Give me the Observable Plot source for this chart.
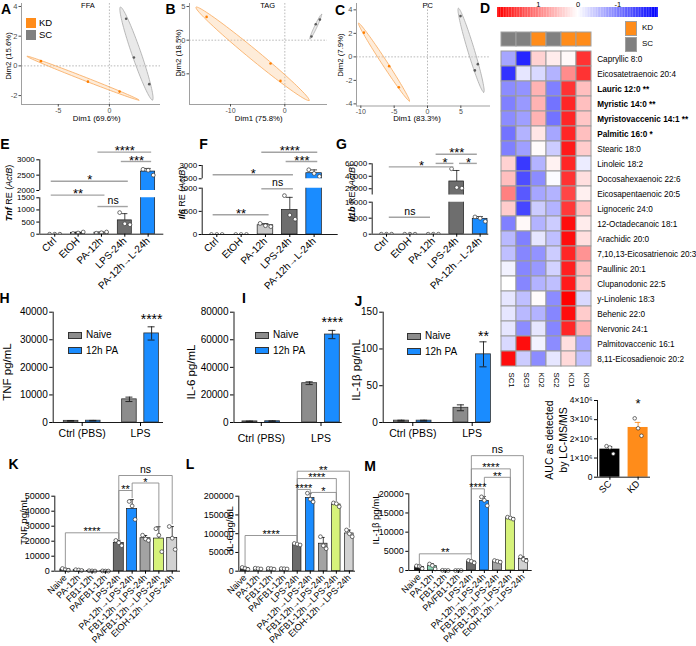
<!DOCTYPE html>
<html><head><meta charset="utf-8">
<script src="https://cdn.jsdelivr.net/npm/d3@7"></script>
<script src="https://cdn.jsdelivr.net/npm/@observablehq/plot@0.6"></script>
<style>
html, body { margin: 0; padding: 0; background: #fff; }
#fig { position: relative; width: 696px; height: 646px; overflow: hidden; background: #fff; font-family: Arial, "Liberation Sans", Helvetica, sans-serif; }
#fig svg { position: absolute !important; left: 0; top: 0; background: transparent !important; overflow: visible; max-width: none !important; }
.t { position: absolute; white-space: nowrap; line-height: 1; color: #000; }
.box { position: absolute; box-sizing: border-box; }
</style>
</head><body><div id="fig"></div>
<script>
// ================= DATA =================
// A–C: PCA individual scores (first three KD, last three SC)
const pcaGroup = ["KD", "KD", "KD", "SC", "SC", "SC"];
const ffaDim1 = [-6.7, -2.1, 1.0, 1.64, 2.4, 3.9];
const ffaDim2 = [0.32, -1.06, -1.73, 3.17, 0.56, -1.23];
const tagDim1 = [-14.4, -2.63, -0.8, 6.45, 5.7, 4.9];
const tagDim2 = [3.46, -3.47, -6.05, 3.06, 2.37, 0.54];
const pcDim1 = [-9.55, -5.75, -4.3, 4.95, 7.55, 7.1];
const pcDim2 = [2.06, -0.79, -2.59, 3.47, -0.62, -1.15];

// D: heatmap (row z-scores)
const hmSamples = ["SC1", "SC3", "KD2", "SC2", "KD1", "KD3"];
const hmGroups = ["SC", "SC", "KD", "SC", "KD", "KD"];
const hmLipids = ["Capryllic 8:0", "Eicosatetraenoic 20:4", "Lauric 12:0 **", "Myristic 14:0 **", "Myristovaccenic 14:1 **",
  "Palmitic 16:0 *", "Stearic 18:0", "Linoleic 18:2", "Docosahexaenoic 22:6", "Eicosapentaenoic 20:5", "Lignoceric 24:0",
  "12-Octadecanoic 18:1", "Arachidic 20:0", "7,10,13-Eicosatrienoic 20:3", "Paullinic 20:1", "Clupanodonic 22:5",
  "y-Linolenic 18:3", "Behenic 22:0", "Nervonic 24:1", "Palmitovaccenic 16:1", "8,11-Eicosadienoic 20:2"];
const hmBold = [false, false, true, true, true, true, false, false, false, false, false, false, false, false, false, false, false, false, false, false, false];
const hmZ = [
  [-0.7, -1.7, 0.35, 0.15, 0.05, 1.6],
  [-1.6, -0.2, -0.3, -0.6, 0.9, 1.6],
  [-0.9, -0.85, 0.6, -1.0, 1.6, 0.5],
  [-1.0, -0.8, 0.6, -1.1, 1.7, 0.5],
  [-0.9, -0.75, 0.6, -1.1, 1.7, 0.45],
  [-1.1, -0.6, 0.2, -0.7, 1.7, 0.5],
  [-1.0, -0.75, 0.03, -0.4, 1.8, 0.4],
  [0.35, -1.55, -0.6, 0.1, 1.7, -0.15],
  [0.5, -1.4, -0.9, -0.03, 1.6, 0.25],
  [1.0, -1.3, -0.7, -0.6, 1.45, 0.12],
  [0.4, -1.45, -0.4, -0.6, 1.55, 0.45],
  [-1.0, 0.05, -0.6, -0.4, 1.9, 0.15],
  [-0.55, -1.0, -0.2, -0.5, 1.9, 0.25],
  [-0.5, -0.95, -0.85, -0.4, 1.7, 0.85],
  [-0.1, -0.95, -0.8, -0.35, 1.75, 0.5],
  [0.0, -0.95, -0.6, -0.5, 1.8, 0.4],
  [-0.2, -0.5, 0.02, -0.9, 2.0, -0.3],
  [-0.2, -0.55, -0.6, -0.95, 1.9, 0.4],
  [-0.2, -0.9, -0.2, -0.95, 1.7, 0.6],
  [-0.3, 1.9, -0.1, -0.9, 0.25, -0.7],
  [1.9, -0.4, -0.9, -0.2, 0.3, -0.5]
];
const cbTicks = [1, 0, -1];

// AUC (LC-MS/MS)
const aucGroups = ["SC", "KD"];
const aucValues = [[1.62e6, 1.55e6, 1.22e6], [3.07e6, 2.55e6, 2.16e6]];
const aucTicks = [0, 1e6, 2e6, 3e6, 4e6];

// E–G: qPCR relative expression (replicates)
const qpcrCats = ["Ctrl", "EtOH", "PA-12h", "LPS-24h", "PA-12h→L-24h"];
const tnfRE = [[0, 0, 0], [30, 50, 90], [40, 60, 90], [890, 430, 390], [2690, 2660, 2500]];
const il6RE = [[0, 0, 0], [0, 0, 0], [240, 190, 170], [840, 420, 330], [2840, 2700, 2590]];
const il1bRE = [[0, 0, 0], [0, 0, 0], [0, 0, 0], [52000, 22000, 21000], [5400, 5000, 4000]];
const tnfLowTicks = [0, 500, 1000, 1500], tnfHighTicks = [2000, 2500, 3000];
const il6LowTicks = [0, 500, 1000], il6HighTicks = [2500, 3000];
const il1bLowTicks = [0, 5000, 10000], il1bHighTicks = [20000, 40000, 60000];
// [from, to, y, label]
const tnfSig = [[2, 4, 3250, "****"], [3, 4, 2945, "***"], [0, 3, 2300, "*"], [0, 2, 1610, "**"], [2, 3, 1140, "ns"]];
const il6Sig = [[2, 4, 3500, "****"], [3, 4, 3150, "***"], [0, 3, 2650, "*"], [0, 2, 425, "**"], [2, 3, 987, "ns"]];
const il1bSig = [[2, 4, 75300, "***"], [2, 3, 60650, "*"], [3, 4, 60650, "*"], [0, 3, 55100, "*"], [0, 2, 5310, "ns"]];

// H–J: cytokines (mean, error)
const cytoGroups = ["Ctrl (PBS)", "LPS"];
const cytoSeries = ["Naive", "12h PA"];
const tnfNaive = [600, 8400], tnfNaiveErr = [100, 800];
const tnfPA = [650, 32300], tnfPAErr = [100, 2400];
const il6Naive = [800, 28500], il6NaiveErr = [200, 1000];
const il6PA = [900, 63800], il6PAErr = [300, 3000];
const il1bNaive = [2.5, 20], il1bNaiveErr = [0.6, 4];
const il1bPA = [2.5, 92.7], il1bPAErr = [0.6, 17];

// K–M: pretreatment cytokines (replicates)
const preCats = ["Naive", "PA-12h", "FB1-12h", "PA/FB1-12h", "LPS-24h", "PA-12h→LPS-24h", "FB1-12h→LPS-24h", "PA/FB1-12h→LPS-24h", "EtOH-12h→LPS-24h"];
const tnfPg = [[1800, 1200, 600], [1000, 800, 500], [300, 200, 100], [200, 100, 100], [20500, 19000, 17000], [46500, 43500, 34500], [24000, 21500, 20500], [28300, 24000, 13000], [29800, 22000, 14500]];
const il6Pg = [[10000, 8000, 5000], [8000, 7000, 6000], [7500, 7000, 5500], [7000, 6500, 6000], [74000, 72000, 70000], [208000, 192000, 185000], [92000, 68000, 60000], [182000, 180000, 172000], [110000, 100000, 92000]];
const il1bPg = [[1200, 1100, 500], [1700, 1300, 400], [50, 0, 0], [0, 0, 0], [2600, 2400, 2000], [19200, 18300, 16900], [2600, 2400, 2200], [13900, 13700, 13400], [3600, 2900, 2500]];
// [from, to, y, leftDrop, rightDrop, label]
const tnfPgBr = [[0, 4, 25600, 1600, 21600, "****"], [4, 5, 53800, 21600, 49000, "**"], [5, 7, 58800, 53800, 30000, "*"], [4, 8, 63800, 21600, 31600, "ns"]];
const il6PgBr = [[0, 4, 95200, 10000, 76500, "****"], [4, 5, 218000, 76500, 210000, "****"], [5, 7, 210000, 200000, 188500, "*"], [4, 7, 247000, 76500, 188500, "****"], [4, 8, 266700, 76500, 117000, "**"]];
const il1bPgBr = [[0, 4, 4350, 800, 3000, "**"], [4, 5, 21300, 4350, 19200, "****"], [5, 7, 24300, 22100, 14300, "**"], [4, 7, 26500, 4350, 14300, "****"], [4, 8, 29950, 4350, 3900, "ns"]];

// ================= STYLE / HELPERS =================
const FONT = 'Arial, "Liberation Sans", Helvetica, sans-serif';
const W = 696, H = 646;
const KD_ORANGE = "#ff8c1a", SC_GRAY = "#808080", PA_BLUE = "#1a8cff", NAIVE_GRAY = "#8c8c8c";
const qpcrFills = ["#ffffff", "#000000", "#c9c9c9", "#6e6e6e", PA_BLUE];
const preFills = ["#111111", "#8fd8b8", "#a9d9df", "#b4c9e6", "#6b6b6b", PA_BLUE, "#a3a3a3", "#d6f27a", "#d2d2d2"];
const HM_COLOR = {type: "linear", domain: [-2, 0, 2], range: ["#0000ff", "#ffffff", "#ff0000"], interpolate: "rgb", clamp: true};
const fig = document.getElementById("fig");

function mk(frame, opts) {
  const [x0, y0, x1, y1] = frame;
  if (opts.x && !("axis" in opts.x)) opts.x = {...opts.x, axis: null};
  if (opts.y && !("axis" in opts.y)) opts.y = {...opts.y, axis: null};
  const svg = Plot.plot(Object.assign({
    width: W, height: H,
    marginLeft: x0, marginTop: y0, marginRight: W - x1, marginBottom: H - y1,
    style: {background: "transparent", fontFamily: FONT, overflow: "visible", color: "#000"}
  }, opts));
  fig.appendChild(svg);
}
function txt(html, x, y, o = {}) {
  const d = document.createElement("div");
  d.className = "t";
  d.innerHTML = html;
  d.style.left = x + "px"; d.style.top = y + "px";
  d.style.fontSize = (o.size || 9) + "px";
  d.style.fontWeight = o.bold ? "bold" : "normal";
  const ax = o.anchor === "start" ? "0%" : o.anchor === "end" ? "-100%" : "-50%";
  d.style.transform = `translate(${ax}, -50%)` + (o.rot ? ` rotate(${o.rot}deg)` : "");
  fig.appendChild(d);
}
function box(x, y, w, h, color, border) {
  const d = document.createElement("div");
  d.className = "box";
  Object.assign(d.style, {left: x + "px", top: y + "px", width: w + "px", height: h + "px", background: color, border: border || "none"});
  fig.appendChild(d);
}

// ---------- A–C: PCA ----------
function confEllipse(pts, n = 96) {
  const m = pts.length, mx = d3.mean(pts, p => p.x), my = d3.mean(pts, p => p.y);
  let sxx = 0, syy = 0, sxy = 0;
  for (const p of pts) { sxx += (p.x - mx) ** 2; syy += (p.y - my) ** 2; sxy += (p.x - mx) * (p.y - my); }
  const k = (m - 1) * m; sxx /= k; syy /= k; sxy /= k;
  const tr = sxx + syy, det = sxx * syy - sxy * sxy, disc = Math.sqrt(Math.max(0, tr * tr / 4 - det));
  const l1 = tr / 2 + disc, l2 = Math.max(0, tr / 2 - disc);
  const th = 0.5 * Math.atan2(2 * sxy, sxx - syy);
  const r = Math.sqrt(-2 * Math.log(0.05));
  const a = r * Math.sqrt(l1), b = r * Math.sqrt(l2);
  return d3.range(n).map(i => {
    const t = 2 * Math.PI * i / n, u = a * Math.cos(t), v = b * Math.sin(t);
    return {x: mx + u * Math.cos(th) - v * Math.sin(th), y: my + u * Math.sin(th) + v * Math.cos(th)};
  });
}
function pcaPanel(xs, ys, frame, xdom, ydom, xticks, yticks) {
  const pts = xs.map((x, i) => ({x, y: ys[i], g: pcaGroup[i]}));
  const kd = pts.filter(p => p.g === "KD"), sc = pts.filter(p => p.g === "SC");
  const ref = {stroke: "#8c8c8c", strokeWidth: 0.6, strokeDasharray: "1.6,1.6"};
  mk(frame, {
    x: {domain: xdom}, y: {domain: ydom},
    marks: [
      Plot.ruleX([0], ref), Plot.ruleY([0], ref),
      Plot.line(confEllipse(sc), {x: "x", y: "y", curve: "linear-closed", stroke: "#a8a8a8", strokeWidth: 0.8, fill: "#cfcfcf", fillOpacity: 0.45}),
      Plot.line(confEllipse(kd), {x: "x", y: "y", curve: "linear-closed", stroke: "#f9a85a", strokeWidth: 0.8, fill: "#fcc893", fillOpacity: 0.35}),
      Plot.dot(sc, {x: "x", y: "y", r: 1.3, fill: "#5a5a5a"}),
      Plot.dot(kd, {x: "x", y: "y", r: 1.3, fill: "#ff7f00"}),
      Plot.ruleX([xdom[0]], {stroke: "#777", strokeWidth: 0.7}),
      Plot.ruleY([ydom[0]], {stroke: "#777", strokeWidth: 0.7}),
      Plot.axisX({ticks: xticks, tickFormat: d => String(d), tickSize: 2.5, tickPadding: 1, fontSize: 7, label: null, color: "#4d4d4d"}),
      Plot.axisY({ticks: yticks, tickFormat: d => String(d), tickSize: 2.5, tickPadding: 1.5, fontSize: 7.5, label: null, color: "#4d4d4d"})
    ]
  });
}
pcaPanel(ffaDim1, ffaDim2, [21, 3, 160, 104], [-8.6, 5.0], [-2.6, 4.2], [-5, 0], [-2, 0, 2, 4]);
pcaPanel(tagDim1, tagDim2, [189, 3, 327, 104], [-17.55, 7.86], [-9.56, 5.45], [-10, 0], [-5, 0, 5]);
pcaPanel(pcDim1, pcDim2, [356, 3, 490, 105.5], [-10.65, 9.45], [-4.18, 4.54], [-10, -5, 0, 5], [-4, -2, 0, 2, 4]);

// ---------- D: heatmap ----------
const cbStops = d3.range(-2, 2.0001, 0.04);
mk([498, 7, 657, 17], {
  x: {domain: [2, -2]}, color: HM_COLOR,
  marks: [
    Plot.rect(cbStops, {x1: d => d - 0.021, x2: d => d + 0.021, fill: d => d}),
    Plot.axisX({anchor: "top", ticks: cbTicks, tickFormat: d => String(d), tickSize: 0, tickPadding: 1, fontSize: 7.5, label: null})
  ]
});
mk([500.7, 32, 591.7, 46], {
  x: {domain: hmSamples, padding: 0, axis: null}, color: {type: "identity"},
  marks: [Plot.cell(hmSamples, {x: d => d, fill: (d, i) => hmGroups[i] === "KD" ? KD_ORANGE : SC_GRAY, stroke: "#a0a0a0", strokeWidth: 1})]
});
const hmCells = hmLipids.flatMap((l, r) => hmSamples.map((s, c) => ({l, s, z: hmZ[r][c]})));
mk([500.7, 49, 591.7, 368], {
  x: {domain: hmSamples, padding: 0, axis: null}, y: {domain: hmLipids, padding: 0, axis: null}, color: HM_COLOR,
  marks: [
    Plot.cell(hmCells, {x: "s", y: "l", fill: "z", stroke: "#9c9c9c", strokeWidth: 1}),
    Plot.text(hmLipids.filter((l, i) => !hmBold[i]), {y: d => d, frameAnchor: "right", dx: 5, textAnchor: "start", fontSize: 8.2}),
    Plot.text(hmLipids.filter((l, i) => hmBold[i]), {y: d => d, frameAnchor: "right", dx: 5, textAnchor: "start", fontSize: 8.2, fontWeight: "bold"}),
    Plot.text(hmSamples, {x: d => d, frameAnchor: "bottom", rotate: 90, textAnchor: "start", dy: 4, fontSize: 7.8})
  ]
});

// ---------- AUC ----------
{
  const fills = ["#000000", KD_ORANGE];
  const rows = aucValues.map((p, i) => ({i, m: d3.mean(p), se: d3.deviation(p) / Math.sqrt(p.length)}));
  const pts = aucValues.flatMap((p, i) => p.map((v, j) => ({x: i + (j - 1) * 0.12, v})));
  mk([597, 400, 650, 476.7], {
    x: {domain: [-0.44, 1.44]}, y: {domain: [0, 4e6]}, color: {type: "identity"},
    marks: [
      Plot.ruleX(rows, {x: "i", y1: "m", y2: d => d.m + d.se, stroke: d => fills[d.i], strokeWidth: 0.9}),
      Plot.ruleY(rows, {y: d => d.m + d.se, x1: d => d.i - 0.1, x2: d => d.i + 0.1, stroke: d => fills[d.i], strokeWidth: 0.9}),
      Plot.rect(rows, {x1: d => d.i - 0.355, x2: d => d.i + 0.355, y1: 0, y2: "m", fill: d => fills[d.i]}),
      Plot.dot(pts, {x: "x", y: "v", r: 1.8, fill: "white", stroke: "#333", strokeWidth: 0.7}),
      Plot.ruleX([-0.44], {y1: 0, y2: 4e6, stroke: "#1a1a1a"}),
      Plot.ruleY([0], {stroke: "#1a1a1a"}),
      Plot.axisY({ticks: aucTicks, tickFormat: d => d ? `${d / 1e6}×10⁶` : "0", tickSize: 3, tickPadding: 2, fontSize: 8.5, label: null}),
      Plot.axisX({ticks: [0, 1], tickFormat: i => aucGroups[i], tickRotate: -45, tickSize: 3, tickPadding: 2, fontSize: 9.5, label: null}),
      Plot.text([[1, 3.85e6, "*"]], {x: d => d[0], y: d => d[1], text: d => d[2], fontSize: 13})
    ]
  });
}

// ---------- bar panels with replicates (optionally broken y axis) ----------
function barPanel(o) {
  const n = o.cats.length, hw = o.barW / 2, cap = o.barW * 0.22, ink = "#1a1a1a";
  const rows = o.points.map((p, i) => ({i, m: d3.mean(p), s: d3.deviation(p) || 0}));
  const errs = rows.filter(d => d.s > 0);
  const pts = o.points.flatMap((p, i) => p.map((v, j) => ({x: i + (j - (p.length - 1) / 2) * o.jit, v})));
  const segs = o.segs;
  const broken = segs.length > 1;
  segs.forEach((sg, si) => {
    const clip = broken;
    const marks = [
      Plot.ruleX(errs, {x: "i", y1: "m", y2: d => d.m + d.s, stroke: ink, strokeWidth: 0.8, clip}),
      Plot.ruleY(errs, {y: d => d.m + d.s, x1: d => d.i - cap, x2: d => d.i + cap, stroke: ink, strokeWidth: 0.8, clip}),
      Plot.rect(rows, {x1: d => d.i - hw, x2: d => d.i + hw, y1: 0, y2: "m", fill: d => o.fills[d.i], stroke: ink, strokeWidth: 0.7, clip}),
      Plot.dot(pts, {x: "x", y: "v", r: 1.9, fill: "white", stroke: "#333", strokeWidth: 0.7, clip}),
      Plot.ruleX([o.xdom[0]], {y1: sg.domain[0], y2: sg.domain[1], stroke: ink, strokeWidth: 1}),
      Plot.axisY({ticks: sg.ticks, tickFormat: d => String(d), tickSize: 3, tickPadding: 2, fontSize: o.yfs, label: null})
    ];
    if (si === 0) {
      marks.push(Plot.ruleY([0], {stroke: ink, strokeWidth: 1}));
      marks.push(Plot.axisX({ticks: d3.range(n), tickFormat: i => o.cats[i], tickRotate: -45, tickSize: 3, tickPadding: 2, fontSize: o.xfs, label: null}));
    }
    if (o.sig) {
      const s = o.sig
        .filter(([a, b, y]) => (broken ? (y < segs[1].domain[0] ? 0 : 1) : 0) === si)
        .map(([a, b, y, t]) => ({x1: a - o.ext, x2: b + o.ext, xm: (a + b) / 2, y, t}));
      marks.push(Plot.ruleY(s, {y: "y", x1: "x1", x2: "x2", stroke: "#a3a3a3", strokeWidth: 1.4}));
      marks.push(Plot.text(s.filter(d => d.t !== "ns"), {x: "xm", y: "y", text: "t", fontSize: 13, dy: -1}));
      marks.push(Plot.text(s.filter(d => d.t === "ns"), {x: "xm", y: "y", text: "t", fontSize: 10.5, dy: -6}));
    }
    if (o.brackets && si === 0) {
      const bp = o.brackets.flatMap(([a, b, y, l, r], k) => [{k, x: a, y: l}, {k, x: a, y}, {k, x: b, y}, {k, x: b, y: r}]);
      const lab = o.brackets.map(([a, b, y, l, r, t]) => ({x: (a + b) / 2, y, t}));
      marks.push(Plot.line(bp, {x: "x", y: "y", z: "k", stroke: "#8c8c8c", strokeWidth: 0.9}));
      marks.push(Plot.text(lab.filter(d => d.t !== "ns"), {x: "x", y: "y", text: "t", fontSize: 11, dy: -1}));
      marks.push(Plot.text(lab.filter(d => d.t === "ns"), {x: "x", y: "y", text: "t", fontSize: 10.5, dy: -6}));
    }
    mk([o.xr[0], sg.top, o.xr[1], sg.bottom], {x: {domain: o.xdom}, y: {domain: sg.domain}, color: {type: "identity"}, marks});
  });
}

barPanel({cats: qpcrCats, points: tnfRE, fills: qpcrFills, xr: [39.3, 163.3], xdom: [-0.64, 4.67], barW: 0.6, jit: 0.22,
  segs: [{top: 197.3, bottom: 233.7, domain: [0, 1500], ticks: tnfLowTicks}, {top: 159.3, bottom: 190, domain: [2000, 3000], ticks: tnfHighTicks}],
  yfs: 8, xfs: 10, sig: tnfSig, ext: 0.15});
barPanel({cats: qpcrCats, points: il6RE, fills: qpcrFills, xr: [201.7, 337.7], xdom: [-0.6, 4.99], barW: 0.64, jit: 0.22,
  segs: [{top: 187.7, bottom: 234, domain: [0, 1000], ticks: il6LowTicks}, {top: 165, bottom: 178.3, domain: [2500, 3000], ticks: il6HighTicks}],
  yfs: 8, xfs: 10, sig: il6Sig, ext: 0.15});
barPanel({cats: qpcrCats, points: il1bRE, fills: qpcrFills, xr: [371.7, 488.3], xdom: [-0.61, 4.37], barW: 0.63, jit: 0.22,
  segs: [{top: 201.7, bottom: 233.7, domain: [0, 10000], ticks: il1bLowTicks}, {top: 163.3, bottom: 194.5, domain: [10000, 60000], ticks: il1bHighTicks}],
  yfs: 8, xfs: 10, sig: il1bSig, ext: -0.12});

barPanel({cats: preCats, points: tnfPg, fills: preFills, xr: [54.3, 180], xdom: [-0.79, 8.62], barW: 0.75, jit: 0.22,
  segs: [{top: 495.7, bottom: 570.7, domain: [0, 50000], ticks: [0, 10000, 20000, 30000, 40000, 50000]}], yfs: 9, xfs: 9, brackets: tnfPgBr});
barPanel({cats: preCats, points: il6Pg, fills: preFills, xr: [238.3, 355], xdom: [-0.48, 8.47], barW: 0.65, jit: 0.22,
  segs: [{top: 495.7, bottom: 570.7, domain: [0, 200000], ticks: [0, 50000, 100000, 150000, 200000]}], yfs: 9, xfs: 9, brackets: il6PgBr});
barPanel({cats: preCats, points: il1bPg, fills: preFills, xr: [408.3, 531.7], xdom: [-0.81, 8.68], barW: 0.69, jit: 0.22,
  segs: [{top: 493.3, bottom: 570, domain: [0, 20000], ticks: [0, 5000, 10000, 15000, 20000]}], yfs: 9, xfs: 9, brackets: il1bPgBr});

// ---------- H–J grouped bars ----------
function groupedPanel(o) {
  const OFF = 0.19, hw = 0.125, cap = 0.06, ink = "#1a1a1a";
  const ymax = o.yticks[o.yticks.length - 1];
  const rows = [];
  [[o.naive, o.naiveErr, NAIVE_GRAY], [o.pa, o.paErr, PA_BLUE]].forEach(([m, e, f], si) =>
    m.forEach((v, gi) => rows.push({x: gi + (si ? OFF : -OFF), m: v, e: e[gi], fill: f})));
  mk(o.frame, {
    x: {domain: o.xdom}, y: {domain: [0, ymax]}, color: {type: "identity"},
    marks: [
      Plot.rect(rows, {x1: d => d.x - hw, x2: d => d.x + hw, y1: 0, y2: "m", fill: "fill", stroke: "#333", strokeWidth: 0.8}),
      Plot.ruleX(rows, {x: "x", y1: d => d.m - d.e, y2: d => d.m + d.e, stroke: ink, strokeWidth: 0.9}),
      Plot.ruleY(rows, {y: d => d.m + d.e, x1: d => d.x - cap, x2: d => d.x + cap, stroke: ink, strokeWidth: 0.9}),
      Plot.ruleY(rows, {y: d => d.m - d.e, x1: d => d.x - cap, x2: d => d.x + cap, stroke: ink, strokeWidth: 0.9}),
      Plot.ruleX([o.xdom[0]], {y1: 0, y2: ymax, stroke: ink}),
      Plot.ruleY([0], {stroke: ink}),
      Plot.axisY({ticks: o.yticks, tickFormat: d => String(d), tickSize: 3.5, tickPadding: 2, fontSize: 10, label: null}),
      Plot.axisX({ticks: [0, 1], tickFormat: i => cytoGroups[i], tickSize: 4, tickPadding: o.tp, fontSize: 10.5, label: null}),
      Plot.text([o.star], {x: 1 + OFF, y: d => d[0], text: d => d[1], fontSize: 14, dy: -1})
    ]
  });
}
groupedPanel({naive: tnfNaive, naiveErr: tnfNaiveErr, pa: tnfPA, paErr: tnfPAErr, frame: [52.7, 311.7, 163, 422], xdom: [-0.497, 1.394],
  yticks: [0, 10000, 20000, 30000, 40000], tp: 3, star: [37000, "****"]});
groupedPanel({naive: il6Naive, naiveErr: il6NaiveErr, pa: il6PA, paErr: il6PAErr, frame: [233.5, 311.7, 341.7, 422], xdom: [-0.457, 1.355],
  yticks: [0, 20000, 40000, 60000, 80000], tp: 8, star: [71500, "****"]});
groupedPanel({naive: il1bNaive, naiveErr: il1bNaiveErr, pa: il1bPA, paErr: il1bPAErr, frame: [382.7, 311.7, 490, 422], xdom: [-0.498, 1.308],
  yticks: [0, 50, 100, 150], tp: 3.5, star: [115, "**"]});

// ================= TEXT =================
[["A", 6, 8.5], ["B", 170.5, 8.5], ["C", 340, 10], ["D", 485, 7.7], ["E", 5, 144], ["F", 203.5, 144], ["G", 341.5, 144],
 ["H", 4.5, 298], ["I", 244, 298], ["J", 358.5, 301], ["K", 13.5, 464], ["L", 190, 464], ["M", 370, 466]]
  .forEach(([t, x, y]) => txt(t, x, y, {size: 14, bold: true}));

txt("FFA", 88, 5.5, {size: 7.5}); txt("TAG", 267.7, 5.5, {size: 7.5}); txt("PC", 427.7, 5.5, {size: 7.5});
txt("Dim1 (69.6%)", 96.7, 118.5, {size: 7.8}); txt("Dim1 (75.8%)", 258.7, 118.5, {size: 7.8}); txt("Dim1 (83.3%)", 417, 119, {size: 7.8});
txt("Dim2 (15.6%)", 9, 56, {size: 7.8, rot: -90}); txt("Dim2 (18.5%)", 179, 53, {size: 7.8, rot: -90}); txt("Dim2 (7.9%)", 341, 55, {size: 7.8, rot: -90});
box(26, 18, 10, 10, KD_ORANGE); box(26, 29.5, 10, 10, SC_GRAY);
txt("KD", 39, 23, {size: 9.5, anchor: "start"}); txt("SC", 39, 34.5, {size: 9.5, anchor: "start"});

box(625, 20.5, 12, 15, KD_ORANGE, "1px solid #a0a0a0"); box(625, 36.5, 12, 15, SC_GRAY, "1px solid #a0a0a0");
txt("KD", 642, 28, {size: 8, anchor: "start"}); txt("SC", 642, 44, {size: 8, anchor: "start"});

txt("<b><i>Tnf</i></b> RE (<i>ActB</i>)", 9, 193, {size: 9, rot: -90});
txt("<b><i>Il6</i></b> RE (<i>ActB</i>)", 182, 193, {size: 9, rot: -90});
txt("<b><i>Il1b</i></b> RE (<i>ActB</i>)", 351.5, 193, {size: 9, rot: -90});

txt("TNF pg/mL", 8, 372, {size: 11.5, rot: -90});
txt("IL-6 pg/mL", 192, 372, {size: 11.5, rot: -90});
txt("IL-1β pg/mL", 357, 370, {size: 11.5, rot: -90});
[[68, 86], [255, 273], [406.7, 425]].forEach(([bx, tx], k) => {
  const dy = k === 2 ? 1 : 0;
  box(bx, 331.5 + dy, 14, 7, NAIVE_GRAY, "0.8px solid #333"); box(bx, 346.5 + dy, 14, 7, PA_BLUE, "0.8px solid #333");
  txt(cytoSeries[0], tx, 335 + dy, {size: 10, anchor: "start"}); txt(cytoSeries[1], tx, 350.5 + dy, {size: 10, anchor: "start"});
});

txt("TNF pg/mL", 24, 521, {size: 9.5, rot: -90});
txt("IL-6 pg/mL", 229.5, 529, {size: 9.5, rot: -90});
txt("IL-1β pg/mL", 375.5, 519, {size: 9.5, rot: -90});

txt("AUC as detected", 549, 440, {size: 10.5, rot: -90});
txt("by LC-MS/MS", 562.5, 440, {size: 10.5, rot: -90});
</script></body></html>
